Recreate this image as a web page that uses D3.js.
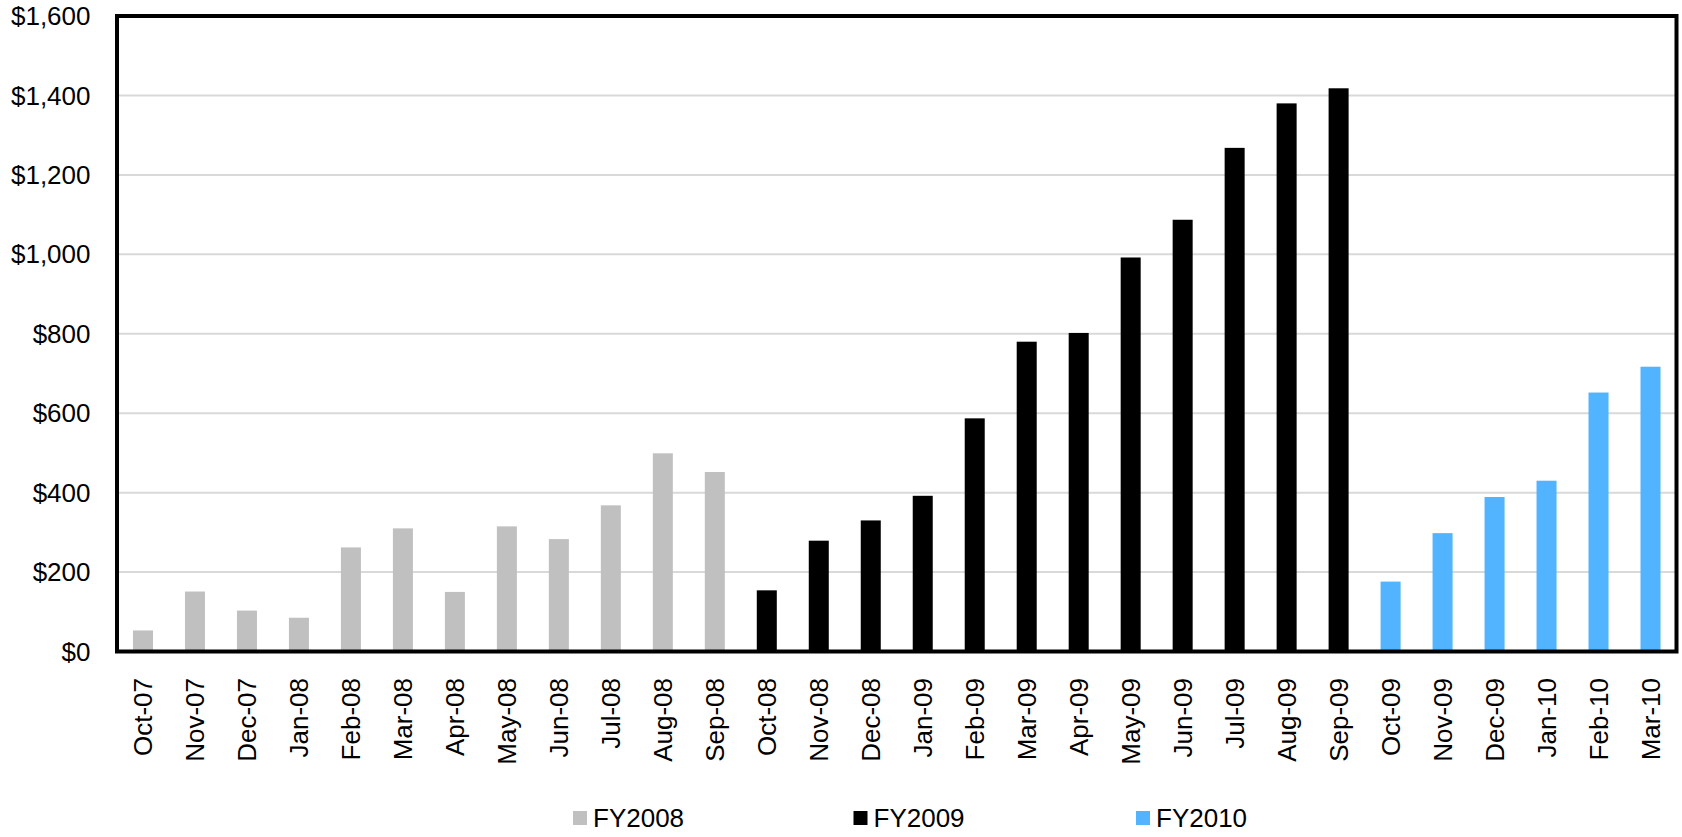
<!DOCTYPE html>
<html>
<head>
<meta charset="utf-8">
<script src="https://cdn.jsdelivr.net/npm/d3@7"></script>
<style>
  html, body { margin: 0; padding: 0; background: #fff; }
  svg { display: block; font-family: "Liberation Sans", Arial, sans-serif; }
</style>
</head>
<body>
<svg id="chart" width="1682" height="837"></svg>
<script>
const categories = ["Oct-07","Nov-07","Dec-07","Jan-08","Feb-08","Mar-08","Apr-08","May-08","Jun-08","Jul-08","Aug-08","Sep-08",
  "Oct-08","Nov-08","Dec-08","Jan-09","Feb-09","Mar-09","Apr-09","May-09","Jun-09","Jul-09","Aug-09","Sep-09",
  "Oct-09","Nov-09","Dec-09","Jan-10","Feb-10","Mar-10"];
const fy2008 = [53,151,103,85,262,310,150,315,283,368,499,452];
const fy2009 = [154,279,330,392,587,780,802,992,1087,1268,1380,1418];
const fy2010 = [176,298,389,430,652,717];
const seriesNames = ["FY2008","FY2009","FY2010"];
const seriesColors = ["#C0C0C0","#000000","#52B4FF"];
const yTicks = [0,200,400,600,800,1000,1200,1400,1600];

(function () {
const seriesValues = [fy2008, fy2009, fy2010];
const data = [];
let idx = 0;
seriesValues.forEach((vals, s) => {
  vals.forEach(v => { data.push({cat: categories[idx], value: v, series: s}); idx++; });
});

const svg = d3.select("#chart");
const pL = 117, pR = 1676.5, pT = 16, pB = 651.5;
const fs = 26;

const x = d3.scaleBand().domain(categories).range([pL, pR]).paddingInner(0.615).paddingOuter(0.3075);
const y = d3.scaleLinear().domain([0, 1600]).range([pB, pT]);

// gridlines
svg.append("g").selectAll("line").data(yTicks.filter(t => t > 0 && t < 1600)).join("line")
  .attr("x1", pL).attr("x2", pR)
  .attr("y1", d => y(d)).attr("y2", d => y(d))
  .attr("stroke", "#D9D9D9").attr("stroke-width", 2);

// bars
svg.append("g").selectAll("rect").data(data).join("rect")
  .attr("x", d => x(d.cat))
  .attr("width", x.bandwidth())
  .attr("y", d => y(d.value))
  .attr("height", d => y(0) - y(d.value))
  .attr("fill", d => seriesColors[d.series]);

// frame
svg.append("rect")
  .attr("x", pL).attr("y", pT)
  .attr("width", pR - pL).attr("height", pB - pT)
  .attr("fill", "none").attr("stroke", "#000").attr("stroke-width", 4);

// y axis labels
const fmt = d3.format("$,");
svg.append("g").selectAll("text").data(yTicks).join("text")
  .attr("x", 90.5).attr("y", d => y(d))
  .attr("dy", "0.35em")
  .attr("text-anchor", "end")
  .attr("font-size", fs)
  .attr("fill", "#000")
  .text(d => fmt(d));

// x axis labels
svg.append("g").selectAll("text").data(categories).join("text")
  .attr("transform", d => `translate(${x(d) + x.bandwidth() / 2},678) rotate(-90)`)
  .attr("dy", "0.35em")
  .attr("text-anchor", "end")
  .attr("font-size", fs)
  .attr("fill", "#000")
  .text(d => d);

// legend
const legendX = [573, 853.5, 1136];
const lg = svg.append("g").selectAll("g").data(seriesNames).join("g")
  .attr("transform", (d, i) => `translate(${legendX[i]},818)`);
lg.append("rect").attr("x", 0).attr("y", -7).attr("width", 14).attr("height", 14)
  .attr("fill", (d, i) => seriesColors[i]);
lg.append("text").attr("x", 20).attr("y", 0).attr("dy", "0.35em")
  .attr("font-size", fs).attr("fill", "#000").text(d => d);
})();
</script>
</body>
</html>
